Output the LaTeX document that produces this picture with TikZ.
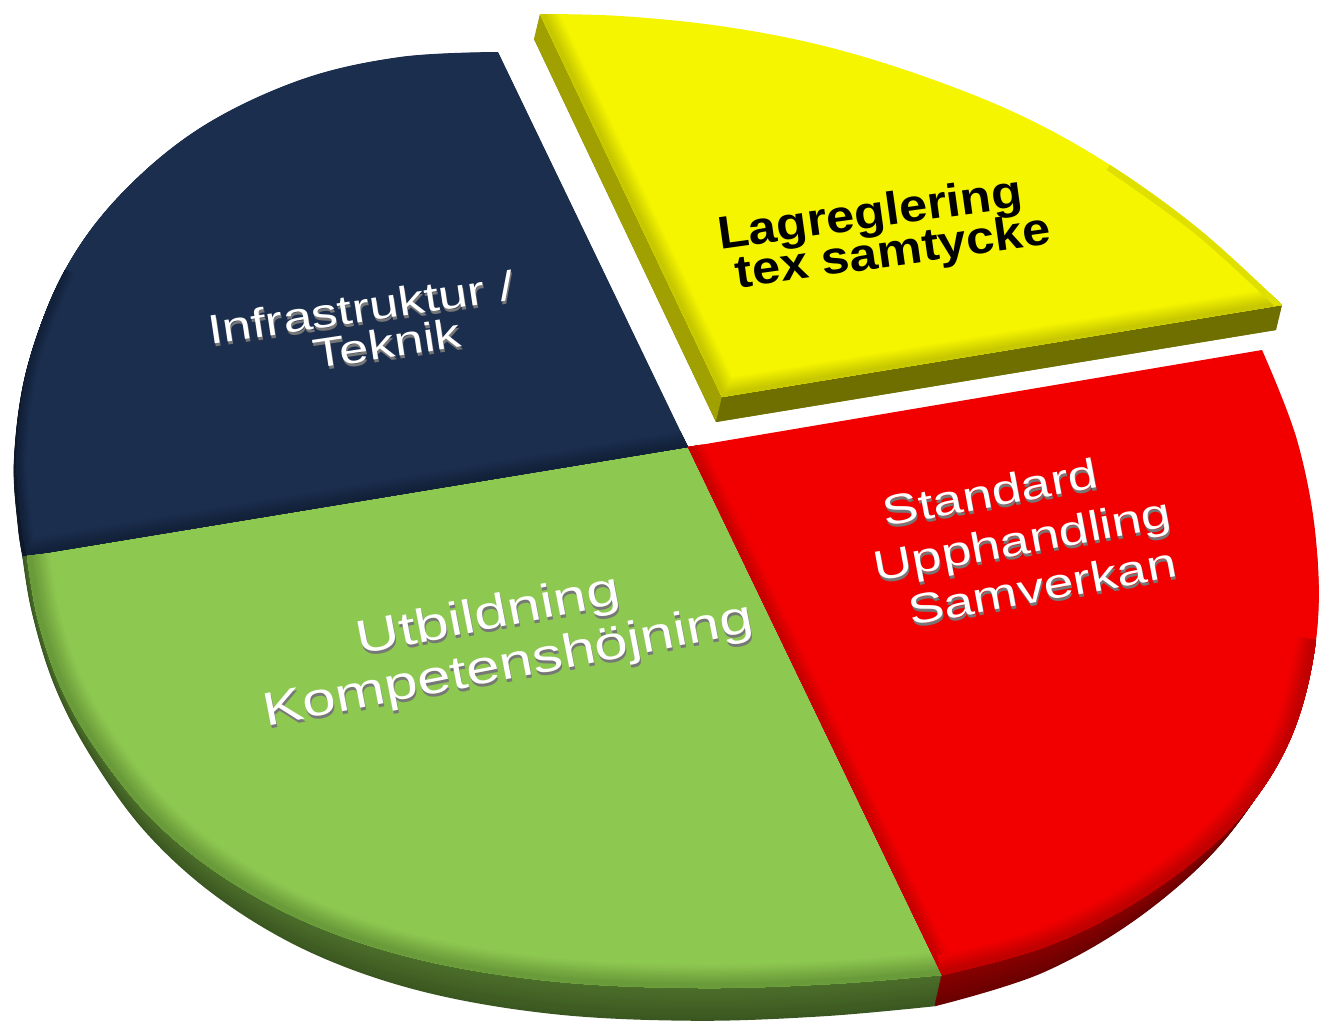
\documentclass[tikz,border=0pt]{standalone}
\usepackage{fontspec}
\newfontfamily\widesans[FakeStretch=1.28]{Liberation Sans}
\newfontfamily\widebold[FakeStretch=1.1]{Liberation Sans}
\definecolor{navytop}{HTML}{1B2E4E}
\definecolor{navybev}{HTML}{122139}
\definecolor{navyside}{HTML}{0E1829}
\definecolor{greentop}{HTML}{8DC850}
\definecolor{greenbev}{HTML}{6A9A3A}
\definecolor{greenside}{HTML}{3B5721}
\definecolor{redtop}{HTML}{F20000}
\definecolor{redbev}{HTML}{C00000}
\definecolor{redside}{HTML}{6A0000}
\definecolor{yeltop}{HTML}{F5F500}
\definecolor{yelbev}{HTML}{C8C800}
\definecolor{yelside}{HTML}{6F6F00}
\definecolor{yelwall}{HTML}{A0A000}
\definecolor{txtshadow}{HTML}{777777}
\newcommand\navyarc{-- plot[smooth,tension=.6] coordinates {(498,52) (400,57) (300,80) (200,128) (120,195) (65,270) (30,360) (17,450) (21,520) (27,556)}}
\newcommand\greenarc{-- plot[smooth,tension=.6] coordinates {(27,556) (38,620) (62,690) (100,755) (155,822) (228,880) (320,928) (430,962) (560,982) (700,988) (830,984) (942,975)}}
\newcommand\redarc{-- plot[smooth,tension=.6] coordinates {(942,975) (1050,945) (1150,893) (1235,823) (1290,740) (1316,640) (1316,540) (1297,440) (1262,350)}}
\newcommand\redlow{-- plot[smooth,tension=.6] coordinates {(942,975) (1050,945) (1150,893) (1235,823) (1290,740) (1316,640)}}
\newcommand\navylow{-- plot[smooth,tension=.6] coordinates {(65,270) (30,360) (17,450) (21,520) (27,556)}}
\newcommand\yelarc{-- plot[smooth,tension=.6] coordinates {(540,14) (620,16) (720,26) (820,45) (920,75) (1020,115) (1110,165) (1200,230) (1282,305)}}
\newcommand\yelend{-- plot[smooth,tension=.6] coordinates {(1110,165) (1200,230) (1282,305)}}
\newcommand\navyface{(688,447) -- (498,52) \navyarc -- cycle}
\newcommand\greenface{(688,447) -- (27,556) \greenarc -- cycle}
\newcommand\redface{(688,447) -- (942,975) \redarc -- cycle}
\newcommand\yelface{(722,397) -- (540,14) \yelarc -- cycle}
\begin{document}
\begin{tikzpicture}[x=1pt,y=-1pt,
  lbl/.style={inner sep=0pt, anchor=base, font=\widesans\fontsize{#1}{#1}\selectfont},
  blbl/.style={inner sep=0pt, anchor=base, text=black, font=\widebold\bfseries\fontsize{#1}{#1}\selectfont},
  txtshd/.style={text=txtshadow},
  txtwht/.style={text=white}]
\useasboundingbox (0,0) rectangle (1322,1020);
% rims of the main pie (thicker towards the viewer)
\foreach \t in {1,0.95,...,0} {
  \fill[navyside, shift={(-3*\t,8*\t)}] \navyface;
}
\begin{scope}
  \clip (0,556) rectangle (1322,1020);
  \foreach \t in {1,0.95,...,0} {
    \pgfmathtruncatemacro\p{65+35*\t}
    \pgfmathsetmacro\sy{1+0.12*\t}
    \pgfmathsetmacro\ty{85.8*\t}
    \pgfmathsetmacro\tx{-7*\t}
    \fill[greenside!\p!greenbev, cm={1,0,0,\sy,(\tx pt,\ty pt)}] \greenface;
    \fill[redside!\p!redbev, cm={1,0,0,\sy,(\tx pt,\ty pt)}] \redface;
  }
\end{scope}
% top faces
\fill[navytop] \navyface;
\fill[greentop] \greenface;
\fill[redtop] \redface;
% bevels
\begin{scope}
  \clip \navyface;
  \foreach \i in {0,...,8} {
    \pgfmathsetmacro\w{34-3.5*\i}
    \pgfmathtruncatemacro\p{10+11*\i}
    \draw[line width=\w pt, navybev!\p!navytop] (688,447) -- (27,556);
    \draw[line width=0.6*\w pt, navybev!\p!navytop] (65,270) \navylow;
  }
\end{scope}
\begin{scope}
  \clip \greenface;
  \foreach \i in {0,...,10} {
    \pgfmathsetmacro\w{46-3.6*\i}
    \pgfmathtruncatemacro\p{6+9.4*\i}
    \draw[line width=\w pt, greenbev!\p!greentop] (27,556) \greenarc;
  }
\end{scope}
\begin{scope}
  \clip \redface;
  \foreach \i in {0,...,8} {
    \pgfmathsetmacro\w{30-3*\i}
    \pgfmathtruncatemacro\p{8+10*\i}
    \draw[line width=\w pt, redbev!\p!redtop] (688,447) -- (942,975);
  }
  \foreach \i in {0,...,10} {
    \pgfmathsetmacro\w{40-3.2*\i}
    \pgfmathtruncatemacro\p{6+9.4*\i}
    \draw[line width=\w pt, redbev!\p!redtop] (942,975) \redlow;
  }
\end{scope}
% exploded yellow slice
\foreach \t in {1,0.95,...,0} {
  \fill[yelside, shift={(-6*\t,25*\t)}] \yelface;
}
\fill[yelwall] (540,14) -- (722,397) -- (716,422) -- (534,39) -- cycle;
\fill[yelside] (722,397) -- (1282,305) -- (1276,330) -- (716,422) -- cycle;
\fill[yeltop] \yelface;
\begin{scope}
  \clip \yelface;
  \foreach \i in {0,...,8} {
    \pgfmathsetmacro\w{36-3.4*\i}
    \pgfmathtruncatemacro\p{8+11.5*\i}
    \draw[line width=\w pt, yelbev!\p!yeltop] (540,14) -- (722,397) -- (1282,305);
  }
  \draw[line width=12pt, yelbev!50!yeltop] (1110,165) \yelend;
\end{scope}
% labels
\node[lbl=41, txtshd, rotate=8.5] (infraS) at (364,325) {Infrastruktur /};
\node[lbl=41, txtwht, rotate=8.5] (infra) at (363,322) {Infrastruktur /};
\node[lbl=41, txtshd, rotate=8.5] (teknikS) at (390,361) {Teknik};
\node[lbl=41, txtwht, rotate=8.5] (teknik) at (389,358) {Teknik};
\node[lbl=47, txtshd, rotate=11] (utbS) at (492,632) {Utbildning};
\node[lbl=47, txtwht, rotate=11] (utb) at (491,629) {Utbildning};
\node[lbl=47, txtshd, rotate=11] (kompS) at (512,682) {Kompetenshöjning};
\node[lbl=47, txtwht, rotate=11] (komp) at (511,679) {Kompetenshöjning};
\node[lbl=42, txtshd, rotate=10.5] (stdS) at (994,510) {Standard};
\node[lbl=42, txtwht, rotate=10.5] (std) at (993,507) {Standard};
\node[lbl=42, txtshd, rotate=10.5] (uppS) at (1026,557) {Upphandling};
\node[lbl=42, txtwht, rotate=10.5] (upp) at (1025,554) {Upphandling};
\node[lbl=42, txtshd, rotate=10.5] (samS) at (1046,604) {Samverkan};
\node[lbl=42, txtwht, rotate=10.5] (sam) at (1045,601) {Samverkan};
\node[blbl=46, rotate=8] (lag) at (872,228) {Lagreglering};
\node[blbl=46, rotate=8] (tex) at (895,266) {tex samtycke};
\end{tikzpicture}
\end{document}
